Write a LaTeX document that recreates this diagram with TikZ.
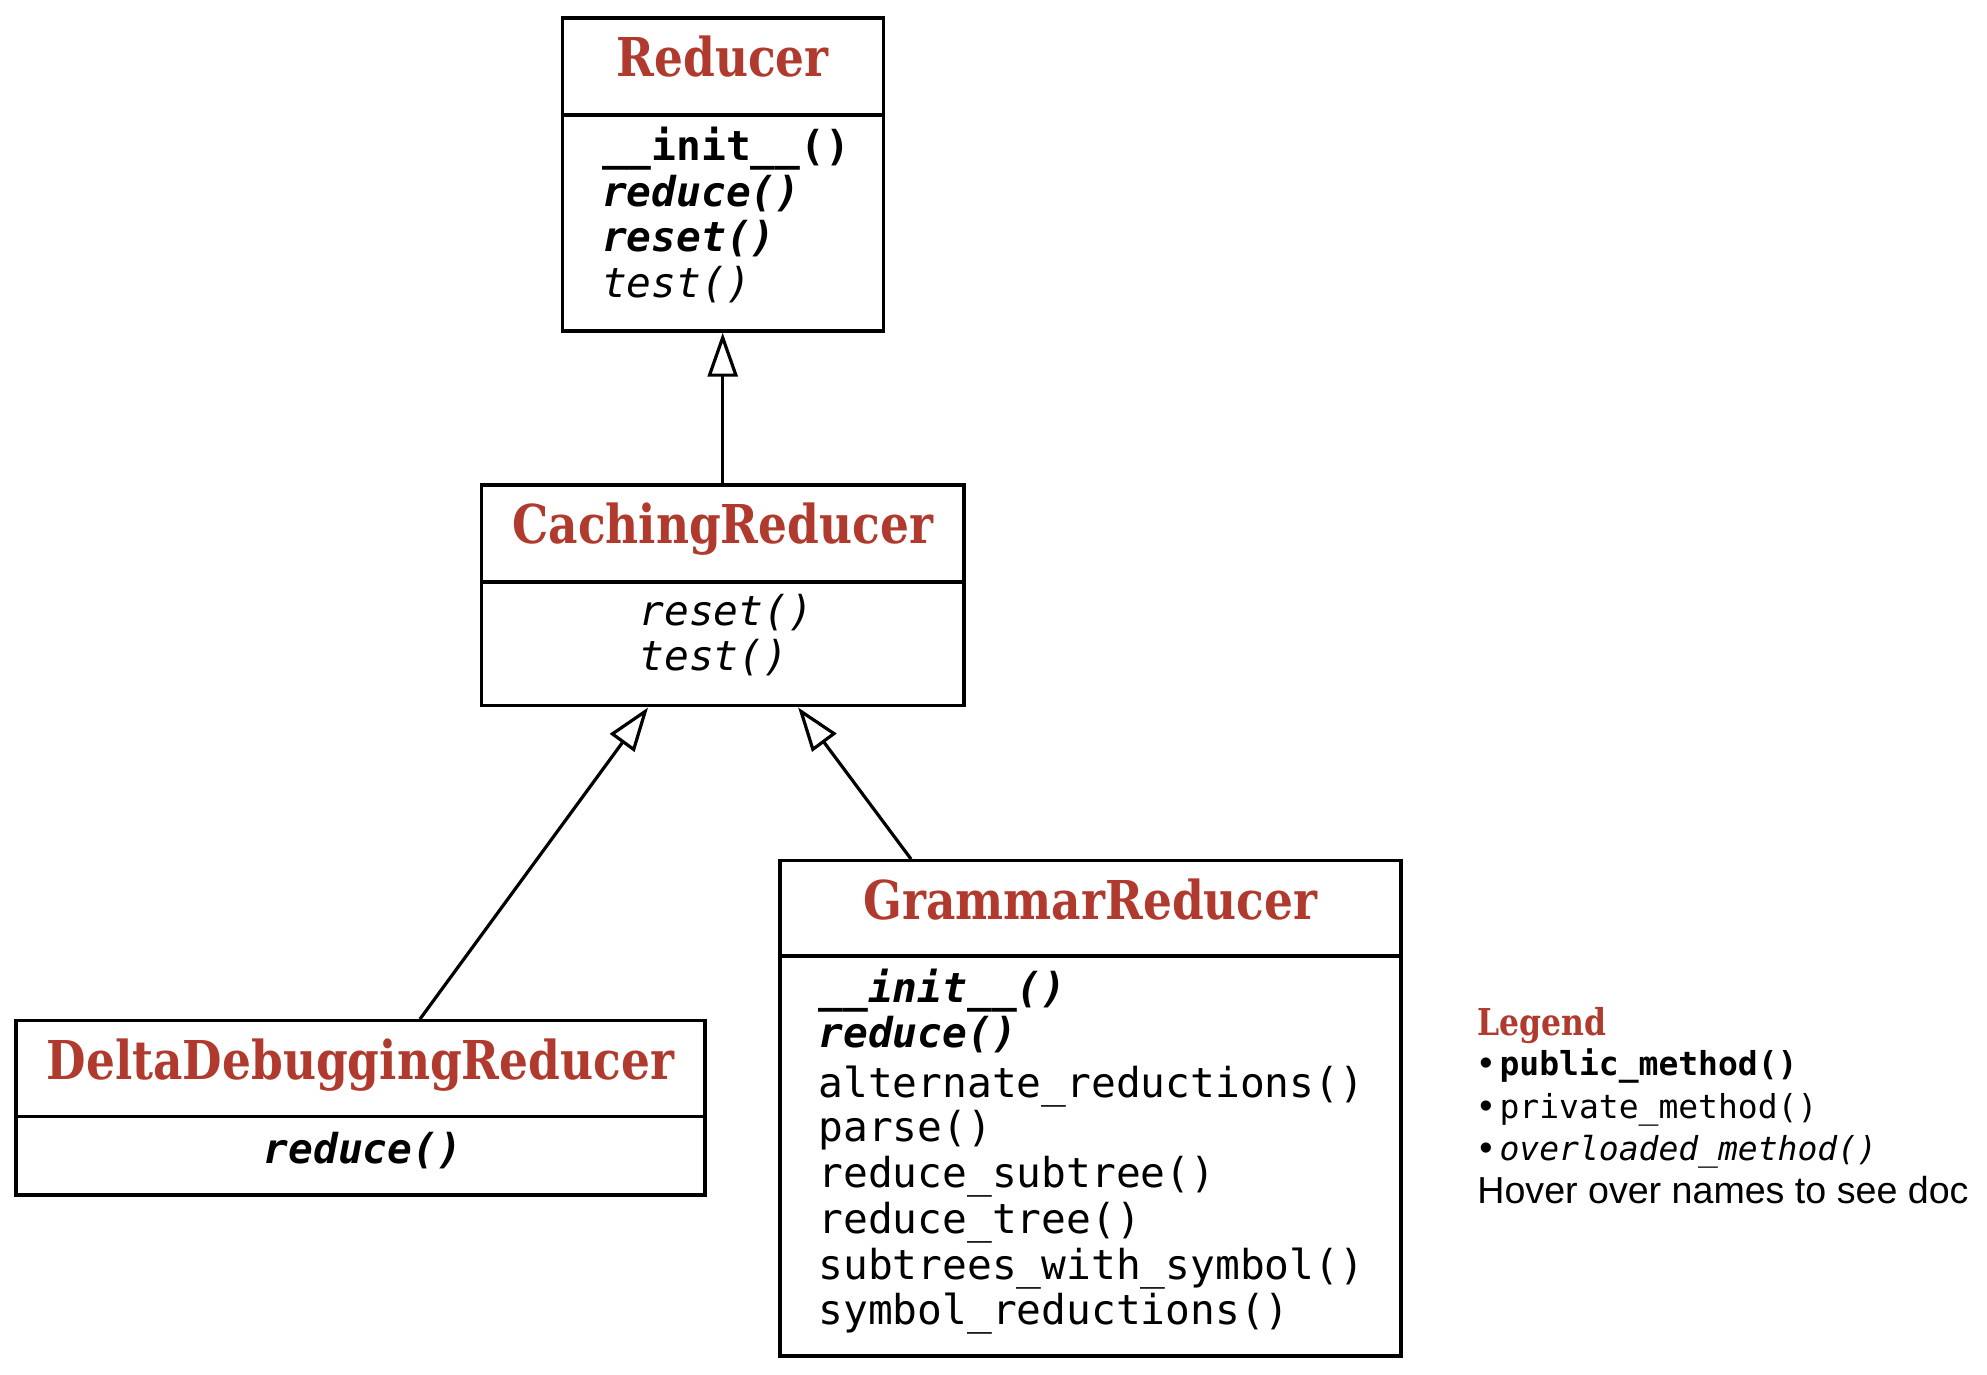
\documentclass[tikz,border=0pt]{standalone}
\usepackage{fontspec}
\setmonofont{DejaVu Sans Mono}
\newfontfamily\titlefont{DejaVu Serif}[FakeStretch=0.85]
\newfontfamily\hoverfont{Liberation Sans}
\usetikzlibrary{arrows.meta}
\definecolor{titlered}{RGB}{176,58,46}
\tikzset{
  boxline/.style={line width=1.7pt},
  classbox/.style={draw, boxline, inner sep=0pt},
  clstitle/.style={anchor=base, text=titlered, font=\titlefont\bfseries\fontsize{26.75pt}{30pt}\selectfont},
  meth/.style={anchor=base west, inner sep=0pt, font=\ttfamily\fontsize{20.6pt}{23pt}\selectfont},
  pubmeth/.style={meth, font=\ttfamily\bfseries\fontsize{20.6pt}{23pt}\selectfont},
  ovlmeth/.style={meth, font=\ttfamily\itshape\fontsize{20.6pt}{23pt}\selectfont},
  pubovlmeth/.style={meth, font=\ttfamily\bfseries\itshape\fontsize{20.6pt}{23pt}\selectfont},
  inherit/.style={line width=1.6pt, -{Triangle[open, length=22pt, width=15pt]}},
  legline/.style={anchor=base west, inner sep=0pt, font=\hoverfont\fontsize{18.8pt}{21pt}\selectfont}
}
\begin{document}
\begin{tikzpicture}[x=0.5pt, y=-0.5pt]
\useasboundingbox (0,0) rectangle (1987,1375);
% Reducer
\node[classbox, minimum width=160.5pt, minimum height=156.5pt] (reducer) at (722.7,174.5) {};
\draw[boxline] (reducer.west |- 0,115) -- (reducer.east |- 0,115);
\node[clstitle] (reducer-name) at (722.7,77) {Reducer};
\node[pubmeth] (reducer-init) at (601.7,161) {\_\_init\_\_()};
\node[pubovlmeth] (reducer-reduce) at (601.7,207) {reduce()};
\node[pubovlmeth] (reducer-reset) at (601.7,252) {reset()};
\node[ovlmeth] (reducer-test) at (601.7,298) {test()};
% CachingReducer
\node[classbox, minimum width=241.15pt, minimum height=110.35pt] (caching) at (722.7,595.4) {};
\draw[boxline] (caching.west |- 0,582) -- (caching.east |- 0,582);
\node[clstitle] (caching-name) at (722.7,543) {CachingReducer};
\node[ovlmeth] (caching-reset) at (639,625) {reset()};
\node[ovlmeth] (caching-test) at (639,670) {test()};
% DeltaDebuggingReducer
\node[classbox, minimum width=344.5pt, minimum height=87.15pt] (delta) at (360.5,1107.9) {};
\draw[boxline] (delta.west |- 0,1116.7) -- (delta.east |- 0,1116.7);
\node[clstitle] (delta-name) at (360.5,1079) {DeltaDebuggingReducer};
\node[pubovlmeth, anchor=base] (delta-reduce) at (363,1163) {reduce()};
% GrammarReducer
\node[classbox, minimum width=310.5pt, minimum height=247.65pt] (grammar) at (1090.5,1108.4) {};
\draw[boxline] (grammar.west |- 0,956) -- (grammar.east |- 0,956);
\node[clstitle] (grammar-name) at (1090.5,919) {GrammarReducer};
\node[pubovlmeth] (grammar-init) at (818,1002) {\_\_init\_\_()};
\node[pubovlmeth] (grammar-reduce) at (818,1047) {reduce()};
\node[meth] (grammar-alt) at (818,1097) {alternate\_reductions()};
\node[meth] (grammar-parse) at (818,1141) {parse()};
\node[meth] (grammar-subtree) at (818,1187) {reduce\_subtree()};
\node[meth] (grammar-tree) at (818,1233) {reduce\_tree()};
\node[meth] (grammar-with) at (818,1279) {subtrees\_with\_symbol()};
\node[meth] (grammar-symbol) at (818,1324) {symbol\_reductions()};
% inheritance
\draw[inherit] (caching.north) -- (reducer.south);
\draw[inherit] ([xshift=29.75pt]delta.north) -- ([xshift=-37.3pt]caching.south);
\draw[inherit] ([xshift=-89.75pt]grammar.north) -- ([xshift=37.7pt]caching.south);
% legend
\node[anchor=base west, inner sep=0pt, text=titlered, font=\titlefont\bfseries\fontsize{18.5pt}{20pt}\selectfont] (legend) at (1477,1035) {Legend};
\node[legline] (leg-pub) at (1479,1075) {•\hspace{3.5pt}{\ttfamily\bfseries\fontsize{16.5pt}{18pt}\selectfont public\_method()}};
\node[legline] (leg-priv) at (1479,1118) {•\hspace{3.5pt}{\ttfamily\fontsize{16.5pt}{18pt}\selectfont private\_method()}};
\node[legline] (leg-ovl) at (1479,1160) {•\hspace{3.5pt}{\ttfamily\itshape\fontsize{16.5pt}{18pt}\selectfont overloaded\_method()}};
\node[legline] (leg-hover) at (1477,1203) {Hover over names to see doc};
\end{tikzpicture}
\end{document}
